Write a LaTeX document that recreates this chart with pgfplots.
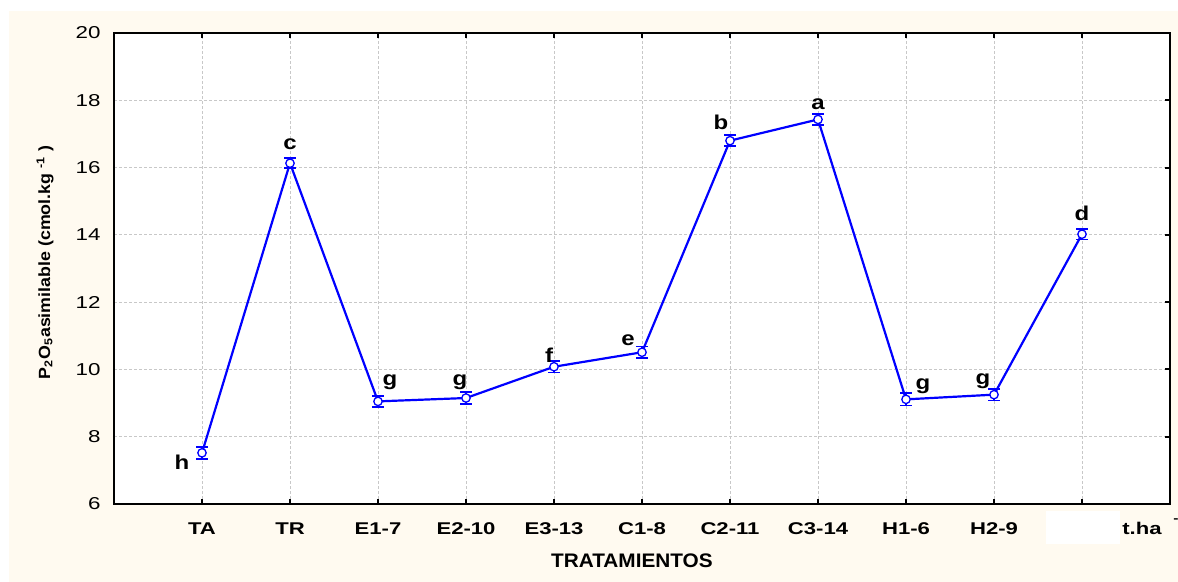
\documentclass[border=0pt]{standalone}
\usepackage{fontspec}
\setmainfont{Liberation Sans}
\newfontfamily\wide{Liberation Sans}[FakeStretch=1.3]
\newfontfamily\ywide{Liberation Sans}[FakeStretch=1.2]
\newfontfamily\lwide{Liberation Sans}[FakeStretch=1.1]
\newfontfamily\xwide{Liberation Sans}[FakeStretch=1.06]
\usepackage{pgfplots}
\pgfplotsset{compat=1.18}
\definecolor{cream}{RGB}{255,250,240}
\definecolor{gridgray}{RGB}{200,200,200}
\tikzset{lab/.style={font=\ywide\bfseries\fontsize{10}{11}\selectfont, inner sep=0pt, anchor=center}}
\begin{document}
\begin{tikzpicture}
\useasboundingbox (-57pt,-39pt) rectangle (532pt,252pt);
\fill[cream] (-52.5pt,-39pt) rectangle (532pt,246.5pt);
\begin{axis}[
  at={(0pt,0pt)}, anchor=south west,
  scale only axis, width=528pt, height=235.5pt,
  xmin=0, xmax=12, ymin=6, ymax=20,
  xtick={1,...,11},
  xticklabels={TA,TR,E1-7,E2-10,E3-13,C1-8,C2-11,C3-14,H1-6,H2-9,{}},
  ytick={6,8,...,20},
  tick align=inside,
  xtick pos=both, xticklabel pos=left,
  ytick pos=right, yticklabel pos=left,
  major tick length=2.5pt,
  tick style={black, line width=1pt},
  grid=major,
  major grid style={gridgray, line width=0.5pt, dash pattern=on 1.5pt off 1pt},
  axis line style={line width=1.1pt},
  axis background/.style={fill=white},
  clip=false,
  /pgf/number format/assume math mode=true,
  yticklabel style={font=\wide\fontsize{8.6}{10}\selectfont, xshift=-3.2pt},
  xticklabel style={font=\wide\bfseries\fontsize{8.5}{10}\selectfont, yshift=-5.7pt},
  xlabel={TRATAMIENTOS},
  xlabel style={at={(axis description cs:0.4905,-0.121)}, anchor=center, font=\xwide\bfseries\fontsize{9.8}{11}\selectfont},
  ylabel={P\textsubscript{2}O\textsubscript{5}asimilable (cmol.kg \textsuperscript{-1} )},
  ylabel style={at={(axis description cs:-0.0653,0.5127)}, anchor=center, font=\lwide\bfseries\fontsize{8.1}{9}\selectfont},
]
\addplot[blue, line width=1.1pt, mark=*, mark size=2.1pt,
  mark options={fill=white, draw=blue, line width=0.65pt},
  error bars/.cd, y dir=both, y explicit,
  error bar style={line width=0.85pt, blue},
  error mark options={rotate=90, mark size=2.8pt, line width=0.85pt, blue}]
coordinates {
(1,7.52) +- (0,0.18)
(2,16.13) +- (0,0.15)
(3,9.05) +- (0,0.16)
(4,9.15) +- (0,0.18)
(5,10.08) +- (0,0.17)
(6,10.51) +- (0,0.17)
(7,16.80) +- (0,0.16)
(8,17.43) +- (0,0.17)
(9,9.11) +- (0,0.18)
(10,9.25) +- (0,0.17)
(11,14.02) +- (0,0.16)
};
\node[lab, xshift=-10pt, yshift=-4.5pt] at (axis cs:1,7.52) {h};
\node[lab, xshift=0pt, yshift=9.5pt] at (axis cs:2,16.13) {c};
\node[lab, xshift=6pt, yshift=9.5pt] at (axis cs:3,9.05) {g};
\node[lab, xshift=-3pt, yshift=8pt] at (axis cs:4,9.15) {g};
\node[lab, xshift=-2.5pt, yshift=5.5pt] at (axis cs:5,10.08) {f};
\node[lab, xshift=-7pt, yshift=6pt] at (axis cs:6,10.51) {e};
\node[lab, xshift=-4.5pt, yshift=9pt] at (axis cs:7,16.80) {b};
\node[lab, xshift=0pt, yshift=7.5pt] at (axis cs:8,17.43) {a};
\node[lab, xshift=8.5pt, yshift=6.5pt] at (axis cs:9,9.11) {g};
\node[lab, xshift=-5.5pt, yshift=6.5pt] at (axis cs:10,9.25) {g};
\node[lab, xshift=0pt, yshift=10.5pt] at (axis cs:11,14.02) {d};
\end{axis}
\fill[white] (466pt,-3.5pt) rectangle (503pt,-20pt);
\node[font=\wide\bfseries\fontsize{8.5}{10}\selectfont, inner sep=0pt] at (514pt,-12pt) {t.ha};
\node[font=\wide\bfseries\fontsize{6}{7}\selectfont, inner sep=0pt] at (531pt,-8.5pt) {-};
\end{tikzpicture}
\end{document}
